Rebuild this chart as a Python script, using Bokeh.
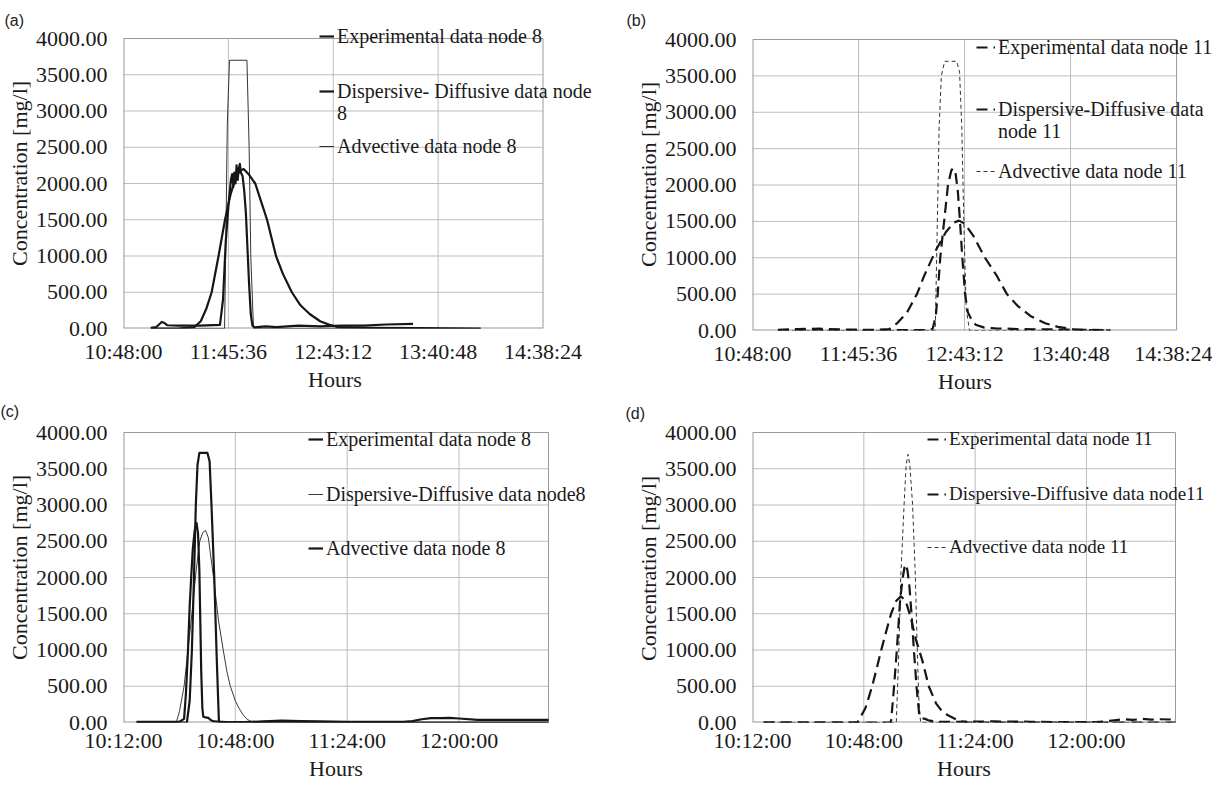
from bokeh.plotting import figure
from bokeh.layouts import row, column
from bokeh.models import Range1d, FixedTicker, NumeralTickFormatter, Legend, LegendItem, Title
from bokeh.embed import file_html
from bokeh.resources import INLINE

SERIF = "Liberation Serif"
SANS = "Liberation Sans"

# ---------------- axes (hours of day) ----------------
ab_ticks = [10.8, 11.76, 12.72, 13.68, 14.64]
ab_tick_labels = ["10:48:00", "11:45:36", "12:43:12", "13:40:48", "14:38:24"]
cd_ticks = [10.2, 10.8, 11.4, 12.0]
cd_tick_labels = ["10:12:00", "10:48:00", "11:24:00", "12:00:00"]
ab_xrange = [10.8, 14.64]
cd_xrange = [10.2, 12.48]
y_ticks = [0, 500, 1000, 1500, 2000, 2500, 3000, 3500, 4000]
y_max = 4000

# ---------------- panel (a) node 8 ----------------
a_exp_t = [11.05, 11.10, 11.15, 11.17, 11.20, 11.30, 11.50, 11.683, 11.711, 11.736, 11.761, 11.783,
           11.795, 11.805, 11.815, 11.825, 11.835, 11.845, 11.855, 11.865, 11.875, 11.89, 11.905,
           11.92, 11.935, 11.95, 11.965, 11.98, 12.00, 12.10, 12.20, 12.40, 12.60, 12.80, 13.00,
           13.20, 13.45]
a_exp_c = [10, 20, 90, 80, 45, 40, 40, 50, 400, 1200, 1700, 2050,
           2130, 1950, 2150, 2000, 2250, 2050, 2200, 2270, 2150, 2100, 1900,
           1600, 1100, 600, 200, 40, 15, 30, 20, 40, 30, 40, 40,
           55, 65]
a_dis_t = [11.05, 11.30, 11.45, 11.507, 11.56, 11.607, 11.67, 11.729, 11.78, 11.83, 11.87, 11.90,
           11.95, 12.006, 12.06, 12.114, 12.196, 12.26, 12.341, 12.42, 12.504, 12.60, 12.686,
           12.758, 13.00, 13.50, 14.07]
a_dis_c = [0, 0, 20, 100, 280, 500, 1000, 1500, 1850, 2100, 2180, 2200,
           2120, 2000, 1750, 1500, 1000, 750, 500, 320, 200, 100, 50,
           20, 10, 5, 0]
a_adv_t = [11.05, 11.725, 11.735, 11.75, 11.77, 11.93, 11.95, 11.965, 11.99, 14.07]
a_adv_c = [0, 0, 1000, 2800, 3700, 3700, 2500, 1000, 0, 0]

# ---------------- panel (b) node 11 ----------------
b_exp_t = [11.03, 11.2, 11.4, 11.6, 11.8, 12.0, 12.2, 12.40, 12.431, 12.46, 12.477, 12.50, 12.535,
           12.57, 12.60, 12.616, 12.64, 12.66, 12.679, 12.70, 12.725, 12.75, 12.77, 12.785, 12.82,
           12.9, 13.0, 13.2, 13.5, 13.8, 14.04]
b_exp_c = [10, 20, 25, 15, 10, 5, 5, 5, 20, 200, 500, 1000, 1500,
           2000, 2200, 2230, 2150, 1900, 1500, 1000, 500, 250, 190, 150, 80,
           40, 30, 20, 15, 10, 5]
b_dis_t = [11.03, 11.5, 11.9, 12.038, 12.11, 12.2, 12.289, 12.354, 12.459, 12.55, 12.62, 12.67,
           12.72, 12.80, 12.905, 13.013, 13.104, 13.2, 13.316, 13.45, 13.565, 13.742, 14.04]
b_dis_c = [0, 5, 5, 20, 100, 250, 500, 750, 1100, 1350, 1480, 1510,
           1470, 1300, 1000, 750, 500, 340, 200, 100, 50, 10, 0]
b_adv_t = [11.03, 12.455, 12.47, 12.49, 12.51, 12.54, 12.65, 12.675, 12.695, 12.715, 12.735, 12.765, 14.04]
b_adv_c = [0, 0, 1200, 2800, 3500, 3700, 3700, 3550, 2800, 1400, 300, 0, 0]

# ---------------- panel (c) node 8 ----------------
c_exp_t = [10.27, 10.40, 10.50, 10.525, 10.535, 10.546, 10.555, 10.563, 10.572, 10.582, 10.592,
           10.60, 10.607, 10.612, 10.617, 10.623, 10.628, 10.64, 10.655, 10.665, 10.683, 10.75,
           10.85, 10.95, 11.05, 11.15, 11.25, 11.40, 11.60, 11.70, 11.75, 11.80, 11.85, 11.90,
           11.95, 12.00, 12.10, 12.25, 12.48]
c_exp_c = [10, 10, 10, 50, 400, 1000, 1600, 2000, 2400, 2650, 2750,
           2600, 2100, 1400, 700, 200, 80, 70, 65, 40, 15, 5,
           5, 15, 25, 20, 15, 10, 10, 10, 20, 45, 60, 60,
           65, 55, 35, 35, 35]
c_dis_t = [10.27, 10.483, 10.50, 10.525, 10.546, 10.567, 10.59, 10.609, 10.625, 10.64, 10.655,
           10.683, 10.71, 10.735, 10.755, 10.773, 10.80, 10.819, 10.84, 10.861, 10.892, 11.0, 12.48]
c_dis_c = [0, 0, 150, 500, 1000, 1500, 2100, 2500, 2620, 2650, 2550,
           2000, 1400, 1000, 700, 500, 300, 200, 110, 50, 0, 0, 0]
c_adv_t = [10.27, 10.54, 10.555, 10.567, 10.578, 10.588, 10.597, 10.607, 10.65, 10.662, 10.672,
           10.687, 10.70, 10.712, 12.48]
c_adv_c = [0, 0, 300, 1000, 2000, 3000, 3550, 3720, 3720, 3600, 3000,
           2000, 900, 0, 0]

# ---------------- panel (d) node 11 ----------------
d_exp_t = [10.26, 10.5, 10.7, 10.9, 10.94, 10.947, 10.96, 10.978, 10.996, 11.01, 11.02, 11.027,
           11.035, 11.045, 11.057, 11.07, 11.084, 11.099, 11.11, 11.13, 11.148, 11.2, 11.3, 11.5,
           11.7, 11.9, 12.05, 12.1, 12.15, 12.2, 12.25, 12.3, 12.35, 12.4, 12.48]
d_exp_c = [0, 0, 0, 0, 0, 20, 400, 1000, 1700, 2000, 2150, 2180,
           2100, 1900, 1500, 1000, 500, 100, 60, 50, 30, 10, 10, 15,
           10, 5, 5, 15, 30, 45, 35, 50, 40, 45, 40]
d_dis_t = [10.26, 10.6, 10.766, 10.809, 10.845, 10.87, 10.894, 10.92, 10.947, 10.975, 11.0, 11.025,
           11.053, 11.08, 11.116, 11.15, 11.19, 11.22, 11.253, 11.317, 11.36, 12.48]
d_dis_c = [0, 0, 0, 200, 500, 750, 1000, 1250, 1500, 1680, 1740, 1680,
           1450, 1150, 850, 500, 260, 160, 100, 20, 0, 0]
d_adv_t = [10.26, 10.975, 10.989, 10.999, 11.017, 11.028, 11.038, 11.048, 11.063, 11.078, 11.088,
           11.097, 11.106, 12.48]
d_adv_c = [0, 0, 1000, 2000, 3000, 3550, 3700, 3550, 3000, 2000, 1000, 300, 0, 0]

INK = "#161616"
GRID = "#bdbdbd"
FRAME = "#9a9a9a"


def make_panel(letter, xr, ticks, labels, fig_x, fig_y, w, h, top_panel, letter_valign,
               letter_standoff, left, vis_right, frame_right, vis_top, bottom, letter_x, x_std):
    """Pixel geometry in page px: the frame is widened to the right/top so the
    Excel-style legend (which overhangs the plot area) is not clipped; grid and
    border are drawn over the data area only."""
    frame_top = fig_y + top_panel
    x_end = xr[0] + (xr[1] - xr[0]) * (frame_right - left) / (vis_right - left)
    y_end = y_max * (bottom - frame_top) / (bottom - vis_top)
    p = figure(width=w, height=h, x_range=Range1d(xr[0], x_end), y_range=Range1d(0, y_end),
               output_backend="svg", toolbar_location=None,
               min_border_left=left - fig_x, min_border_right=fig_x + w - frame_right,
               min_border_top=top_panel, min_border_bottom=fig_y + h - bottom,
               background_fill_color="white", border_fill_color="white")
    p.title.text = letter
    p.title.text_font = SANS
    p.title.text_font_size = "16px"
    p.title.text_font_style = "normal"
    p.title.text_color = "#222222"
    p.title.align = "left"
    p.title.vertical_align = letter_valign
    p.title.offset = letter_x - left
    p.title.standoff = letter_standoff
    p.outline_line_color = None

    p.xaxis.ticker = FixedTicker(ticks=ticks)
    p.xaxis.major_label_overrides = dict(zip(ticks, labels))
    p.yaxis.ticker = FixedTicker(ticks=y_ticks)
    p.yaxis.formatter = NumeralTickFormatter(format="0.00")
    for ax in (p.xaxis, p.yaxis):
        ax.axis_line_color = None
        ax.major_tick_line_color = None
        ax.minor_tick_line_color = None
        ax.major_tick_out = 0
        ax.major_tick_in = 0
        ax.major_label_text_font = SERIF
        ax.major_label_text_font_size = "22px"
        ax.major_label_text_color = "#1a1a1a"
        ax.axis_label_text_font = SERIF
        ax.axis_label_text_font_size = "22px"
        ax.axis_label_text_font_style = "normal"
        ax.axis_label_text_color = "#1a1a1a"
    p.yaxis.axis_label = "Concentration [mg/l]"
    p.xaxis.major_label_standoff = x_std
    p.yaxis.major_label_standoff = 16
    p.yaxis.axis_label_standoff = 1
    p.xgrid.visible = False
    p.ygrid.visible = False

    # x-axis title centred under the visible plot area
    hours_w = 2.444 * 22
    p.add_layout(Title(text="Hours", align="left", vertical_align="top", standoff=0,
                       offset=(left + vis_right) / 2 - hours_w / 2 - left,
                       text_font=SERIF, text_font_size="22px", text_font_style="normal",
                       text_color="#1a1a1a"), "below")

    # Excel-style gridlines and plot-area border, limited to the data area
    vt = [t for t in ticks if xr[0] < t < xr[1]]
    p.segment(x0=vt, y0=[0] * len(vt), x1=vt, y1=[y_max] * len(vt),
              line_color=GRID, line_width=1, level="underlay")
    ht = [v for v in y_ticks if 0 < v < y_max]
    p.segment(x0=[xr[0]] * len(ht), y0=ht, x1=[xr[1]] * len(ht), y1=ht,
              line_color=GRID, line_width=1, level="underlay")
    p.segment(x0=[xr[0], xr[1]], y0=[y_max, 0], x1=[xr[1], xr[1]], y1=[y_max, y_max],
              line_color=FRAME, line_width=1, level="underlay")
    p.segment(x0=[xr[0], xr[0]], y0=[0, 0], x1=[xr[1], xr[0]], y1=[0, y_max],
              line_color=FRAME, line_width=2, level="underlay")
    return p


def add_key(p, renderer, label, x, y, fs="20px", gw=15, standoff=3):
    lg = Legend(items=[LegendItem(label=label, renderers=[renderer])], location=(x, y),
                orientation="vertical", padding=0, margin=0, spacing=0,
                glyph_width=gw, glyph_height=24, label_height=24, label_standoff=standoff,
                label_text_font=SERIF, label_text_font_size=fs, label_text_color="#1a1a1a",
                border_line_alpha=0, background_fill_alpha=0)
    p.add_layout(lg, "center")


# ---------- (a) ----------
pa = make_panel("(a)", ab_xrange, ab_ticks, ab_tick_labels, 8, 0, 606, 400, 18, "bottom", -20,
                127, 550, 612, 38, 328, 8, 10)
ra_adv = pa.line(a_adv_t, a_adv_c, line_color="#333333", line_width=1)
ra_dis = pa.line(a_dis_t, a_dis_c, line_color=INK, line_width=2.2, line_join="round")
ra_exp = pa.line(a_exp_t, a_exp_c, line_color=INK, line_width=2.2, line_join="round")
ga = pa.line([], [], line_alpha=0)
add_key(pa, ra_exp, "Experimental data node 8", 196, 280)
add_key(pa, ra_dis, "Dispersive- Diffusive data node", 196, 225)
add_key(pa, ga, "8", 196, 203)
add_key(pa, ra_adv, "Advective data node 8", 196, 170)

# ---------- (b) ----------
pb = make_panel("(b)", ab_xrange, ab_ticks, ab_tick_labels, 614, 0, 606, 402, 18, "bottom", -20,
                759, 1184, 1220, 39, 330, 633, 10)
rb_adv = pb.line(b_adv_t, b_adv_c, line_color="#333333", line_width=1, line_dash="4 3")
rb_dis = pb.line(b_dis_t, b_dis_c, line_color=INK, line_width=2.2, line_dash="11 6")
rb_exp = pb.line(b_exp_t, b_exp_c, line_color=INK, line_width=2.2, line_dash="11 6")
gb = pb.line([], [], line_alpha=0)
add_key(pb, rb_exp, "Experimental data node 11", 224, 271, gw=19)
add_key(pb, rb_dis, "Dispersive-Diffusive data", 224, 209, gw=19)
add_key(pb, gb, "node 11", 224, 187, gw=19)
add_key(pb, rb_adv, "Advective data node 11", 224, 147, gw=19)

# ---------- (c) ----------
pc = make_panel("(c)", cd_xrange, cd_ticks, cd_tick_labels, 8, 400, 606, 389, 12, "top", -20,
                131, 556, 612, 432, 722, 8, 5)
rc_dis = pc.line(c_dis_t, c_dis_c, line_color="#3a3a3a", line_width=1)
rc_adv = pc.line(c_adv_t, c_adv_c, line_color=INK, line_width=2.2, line_join="round")
rc_exp = pc.line(c_exp_t, c_exp_c, line_color=INK, line_width=2.2, line_join="round")
add_key(pc, rc_exp, "Experimental data node 8", 185, 271)
add_key(pc, rc_dis, "Dispersive-Diffusive data node8", 185, 216)
add_key(pc, rc_adv, "Advective data node 8", 185, 162)

# ---------- (d) ----------
pd_ = make_panel("(d)", cd_xrange, cd_ticks, cd_tick_labels, 614, 402, 606, 387, 12, "top", -20,
                 760, 1183, 1220, 432, 722, 633, 5)
rd_adv = pd_.line(d_adv_t, d_adv_c, line_color="#333333", line_width=1, line_dash="4 3")
rd_dis = pd_.line(d_dis_t, d_dis_c, line_color=INK, line_width=2.2, line_dash="11 6")
rd_exp = pd_.line(d_exp_t, d_exp_c, line_color=INK, line_width=2.2, line_dash="11 6")
add_key(pd_, rd_exp, "Experimental data node 11", 175, 271, fs="19px", gw=19)
add_key(pd_, rd_dis, "Dispersive-Diffusive data node11", 175, 216, fs="19px", gw=19)
add_key(pd_, rd_adv, "Advective data node 11", 175, 163, fs="19px", gw=19)

layout = row(column(pa, pc), column(pb, pd_))
open("out.html", "w").write(file_html(layout, INLINE))
